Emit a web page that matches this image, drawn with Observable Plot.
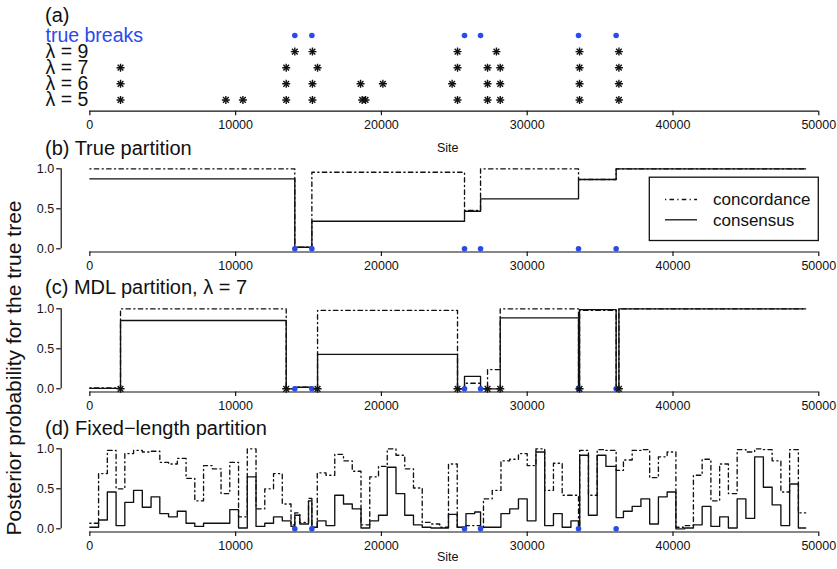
<!DOCTYPE html>
<html><head><meta charset="utf-8">
<script src="https://cdn.jsdelivr.net/npm/d3@7"></script>
<script src="https://cdn.jsdelivr.net/npm/@observablehq/plot@0.6"></script>
<style>
body{margin:0;background:#fff;}
#chart{position:relative;width:837px;height:569px;overflow:hidden;font-family:"Liberation Sans",Arial,sans-serif;color:#111;background:#fff;}
.panel{position:absolute;left:0;}
.title{position:absolute;left:45px;font-size:20px;line-height:20px;white-space:nowrap;}
.ylab{position:absolute;left:13px;top:368px;transform:translate(-50%,-50%) rotate(-90deg);font-size:21px;line-height:21px;white-space:nowrap;}
</style></head><body><div id="chart"></div><script>
// ---------- data ----------
const seqLength = 49100;
const siteTicks = [0, 10000, 20000, 30000, 40000, 50000];
const probTicks = [0, 0.5, 1];
const rowLabels = ["true breaks", "λ = 9", "λ = 7", "λ = 6", "λ = 5"];
const trueBreaks = [14060, 15230, 25700, 26800, 33520, 36100];
const lambda9Breaks = [14060, 15270, 25220, 27890, 33590, 36290];
const lambda7Breaks = [2105, 13470, 15620, 25220, 27280, 28150, 33590, 36290];
const lambda6Breaks = [2105, 13470, 15270, 18570, 20100, 24850, 27280, 28150, 33590, 36290];
const lambda5Breaks = [2105, 9330, 10500, 13470, 15270, 18680, 18910, 25220, 27280, 28150, 33590, 36290];

// (b) true partition
const trueStarts = [0, 14060, 15230, 25700, 26800, 33520, 36100];
const trueConcordance = [1.0, 0.02, 0.957, 0.48, 1.0, 0.866, 1.0];
const trueConsensus = [0.875, 0.02, 0.345, 0.47, 0.625, 0.866, 1.0];

// (c) MDL partition, lambda = 7
const mdlStarts = [0, 2105, 13470, 14060, 15230, 15620, 25220, 25700, 26800, 27280, 28150, 33520, 33590, 36100, 36290];
const mdlConcordance = [0.012, 1.0, 0.0, 0.02, 0.0, 0.98, 0.0, 0.07, 0.0, 0.24, 1.0, 0.0, 0.98, 0.0, 1.0];
const mdlConsensus = [0.005, 0.854, 0.0, 0.02, 0.0, 0.43, 0.0, 0.155, 0.0, 0.0, 0.887, 0.0, 0.99, 0.0, 1.0];

// (d) fixed-length partition (600-site windows)
const fixedWindow = 600;
const fixedConcordance = [
  0.07, 0.69, 0.98, 0.50, 0.94, 0.98, 0.96, 0.97, 0.83, 0.81,
  0.88, 0.63, 0.35, 0.79, 0.75, 0.44, 0.83, 0.15, 1.00, 0.25,
  0.50, 0.69, 0.31, 0.05, 0.08, 0.38, 0.70, 0.67, 0.93, 0.85,
  0.72, 0.05, 0.65, 0.78, 1.00, 0.92, 0.75, 0.51, 0.08, 0.06,
  0.02, 0.81, 0.02, 0.04, 0.04, 0.375, 0.48, 0.85, 0.87, 0.94,
  0.79, 1.00, 0.48, 0.82, 0.42, 0.42, 0.98, 0.42, 0.99, 0.98,
  0.98, 0.86, 0.98, 0.99, 0.64, 0.90, 0.96, 0.02, 0.04, 0.67,
  0.87, 0.35, 0.81, 0.44, 0.99, 0.96, 1.00, 0.99, 0.85, 0.46,
  0.99, 0.20
];
const fixedConsensus = [
  0.02, 0.11, 0.46, 0.04, 0.33, 0.48, 0.27, 0.40, 0.19, 0.15,
  0.22, 0.07, 0.03, 0.07, 0.07, 0.07, 0.24, 0.01, 0.65, 0.03,
  0.07, 0.15, 0.10, 0.03, 0.06, 0.35, 0.10, 0.04, 0.42, 0.31,
  0.25, 0.01, 0.10, 0.17, 0.77, 0.44, 0.17, 0.05, 0.02, 0.01,
  0.01, 0.18, 0.02, 0.19, 0.21, 0.02, 0.02, 0.19, 0.25, 0.375,
  0.10, 0.96, 0.04, 0.19, 0.02, 0.10, 0.92, 0.17, 0.92, 0.78,
  0.78, 0.22, 0.28, 0.375, 0.06, 0.40, 0.46, 0.00, 0.01, 0.05,
  0.28, 0.03, 0.15, 0.01, 0.375, 0.13, 0.90, 0.52, 0.30, 0.04,
  0.56, 0.01
];
// windows that contain a true break change value at the break
const fixedSplitSites = [14060, 15230, 26800, 33520, 36100];
const fixedSplitConcordance = [0.20, 0.02, 0.02, 0.0, 0.73];
const fixedSplitConsensus = [0.17, 0.02, 0.02, 0.0, 0.14];

const titles = ["(a)", "(b) True partition", "(c) MDL partition, λ = 7", "(d) Fixed−length partition"];
const legendLabels = ["concordance", "consensus"];

// ---------- helpers ----------
const blue = "#2a4bea", ink = "#111";
const dotdash = "1.2,3.3,4.5,3.3";
const pad = 0.04;                        // R axis padding
const X0 = -pad * seqLength, X1 = seqLength * (1 + pad);
const W = 837, ML = 60.7, MR = 3.2;
const baseStyle = {fontFamily: "Liberation Sans, Arial, sans-serif", fontSize: "12.5px", color: ink, background: "transparent", overflow: "visible"};

function steps(starts, values) {
  const pts = starts.map((s, i) => ({site: s, p: values[i]}));
  pts.push({site: seqLength, p: values[values.length - 1]});
  return pts;
}
function fixedSteps(values, splitSites, splitValues) {
  const pts = values.map((v, k) => ({site: k * fixedWindow, p: v}));
  splitSites.forEach((s, i) => pts.push({site: s, p: splitValues[i]}));
  pts.sort((a, b) => a.site - b.site);
  pts.push({site: seqLength, p: values[values.length - 1]});
  return pts;
}
function stars(data, y) {
  const o = {x: d => d.site, y, r: 2.7, stroke: ink, strokeWidth: 1.4};
  return [Plot.dot(data, {...o, symbol: "plus"}), Plot.dot(data, {...o, symbol: "times"})];
}
function xAxis(yPos, siteLabel, siteDy) {
  const m = [
    Plot.ruleY([yPos], {x1: siteTicks[0], x2: siteTicks[siteTicks.length - 1], stroke: ink, strokeWidth: 1.2}),
    Plot.axisX({ticks: siteTicks, tickSize: 4.5, tickPadding: 4.6, label: null, fontSize: 12.5, tickFormat: d => String(d), strokeWidth: 1.2})
  ];
  if (siteLabel) m.push(Plot.text(["Site"], {frameAnchor: "bottom", lineAnchor: "middle", dy: siteDy, fontSize: 12.5, fill: ink}));
  return m;
}
function probPanel(top, height, marginBottom, marks, siteDy) {
  const svg = Plot.plot({
    width: W, height, marginLeft: ML, marginRight: MR, marginTop: 25.1, marginBottom,
    x: {domain: [X0, X1]}, y: {domain: [-pad, 1 + pad]},
    style: baseStyle,
    marks: [
      ...xAxis(-pad, siteDy != null, siteDy),
      Plot.ruleX([X0], {y1: probTicks[0], y2: probTicks[probTicks.length - 1], stroke: ink, strokeWidth: 1.2}),
      Plot.axisY({ticks: probTicks, tickSize: 4.5, tickPadding: 2.5, tickFormat: d3.format(".1f"), label: null, fontSize: 12.5, strokeWidth: 1.2}),
      ...marks
    ]
  });
  place(svg, top);
}
const chart = document.getElementById("chart");
function place(node, top) {
  const d = document.createElement("div");
  d.className = "panel"; d.style.top = top + "px";
  d.appendChild(node); chart.appendChild(d);
}
function concLine(data) { return Plot.line(data, {x: "site", y: "p", curve: "step-after", stroke: ink, strokeWidth: 1.35, strokeDasharray: dotdash}); }
function consLine(data) { return Plot.line(data, {x: "site", y: "p", curve: "step-after", stroke: ink, strokeWidth: 1.35}); }
const trueDots = Plot.dot(trueBreaks, {x: d => d, y: () => 0, r: 2.8, fill: blue});

// ---------- panel (a) ----------
const rows = rowLabels.map((label, i) => ({label, level: rowLabels.length - 1 - i}));
const starRows = [lambda9Breaks, lambda7Breaks, lambda6Breaks, lambda5Breaks]
  .flatMap((arr, j) => arr.map(site => ({site, level: rows[j + 1].level})));
const axisLevel = -0.7;
{
  const H = 160;
  const svg = Plot.plot({
    width: W, height: H, marginLeft: ML, marginRight: MR, marginTop: 35, marginBottom: H - 110.7,
    x: {domain: [X0, X1]}, y: {domain: [axisLevel, rows.length - 1], axis: null},
    style: baseStyle,
    marks: [
      ...xAxis(axisLevel, true, 36.3),
      Plot.text(rows.filter(r => r.level === rows.length - 1), {y: "level", text: "label", frameAnchor: "left", textAnchor: "start", dx: 45 - ML, fontSize: 19.5, fill: blue}),
      Plot.text(rows.filter(r => r.level < rows.length - 1), {y: "level", text: "label", frameAnchor: "left", textAnchor: "start", dx: 45 - ML, fontSize: 19.5, fill: ink}),
      ...stars(starRows, "level"),
      Plot.dot(trueBreaks, {x: d => d, y: () => rows.length - 1, r: 2.8, fill: blue})
    ]
  });
  place(svg, 0);
}

// ---------- panel (b) ----------
probPanel(140, 140, 28.5, [
  concLine(steps(trueStarts, trueConcordance)),
  consLine(steps(trueStarts, trueConsensus)),
  trueDots
]);

// ---------- panel (c) ----------
probPanel(280, 140, 28.5, [
  concLine(steps(mdlStarts, mdlConcordance)),
  consLine(steps(mdlStarts, mdlConsensus)),
  trueDots,
  ...stars(lambda7Breaks.map(site => ({site})), () => 0)
]);

// ---------- panel (d) ----------
probPanel(420, 149, 37.5, [
  concLine(fixedSteps(fixedConcordance, fixedSplitSites, fixedSplitConcordance)),
  consLine(fixedSteps(fixedConsensus, fixedSplitSites, fixedSplitConsensus)),
  trueDots
], 24.5);

// ---------- titles, y label, legend ----------
const titleCenters = [15, 148.3, 286.7, 428.3];
titles.forEach((t, i) => {
  const d = document.createElement("div");
  d.className = "title"; d.textContent = t; d.style.top = (titleCenters[i] - 10) + "px";
  chart.appendChild(d);
});
const yl = document.createElement("div");
yl.className = "ylab"; yl.textContent = "Posterior probability for the true tree";
chart.appendChild(yl);

const NS = "http://www.w3.org/2000/svg";
const lg = document.createElementNS(NS, "svg");
lg.setAttribute("width", 172); lg.setAttribute("height", 66);
lg.style.position = "absolute"; lg.style.left = "648px"; lg.style.top = "175.5px";
lg.innerHTML = `<rect x="1.3" y="1.2" width="169" height="63.3" fill="white" stroke="${ink}" stroke-width="1.3"/>` +
  legendLabels.map((lab, i) => {
    const y = 23.5 + i * 20.3;
    return `<line x1="17" x2="49" y1="${y}" y2="${y}" stroke="${ink}" stroke-width="1.3" ${i === 0 ? `stroke-dasharray="${dotdash}"` : ""}/>` +
      `<text x="65" y="${y}" dy="0.35em" font-size="17" font-family="Liberation Sans, Arial, sans-serif" fill="${ink}">${lab}</text>`;
  }).join("");
chart.appendChild(lg);
</script></body></html>
